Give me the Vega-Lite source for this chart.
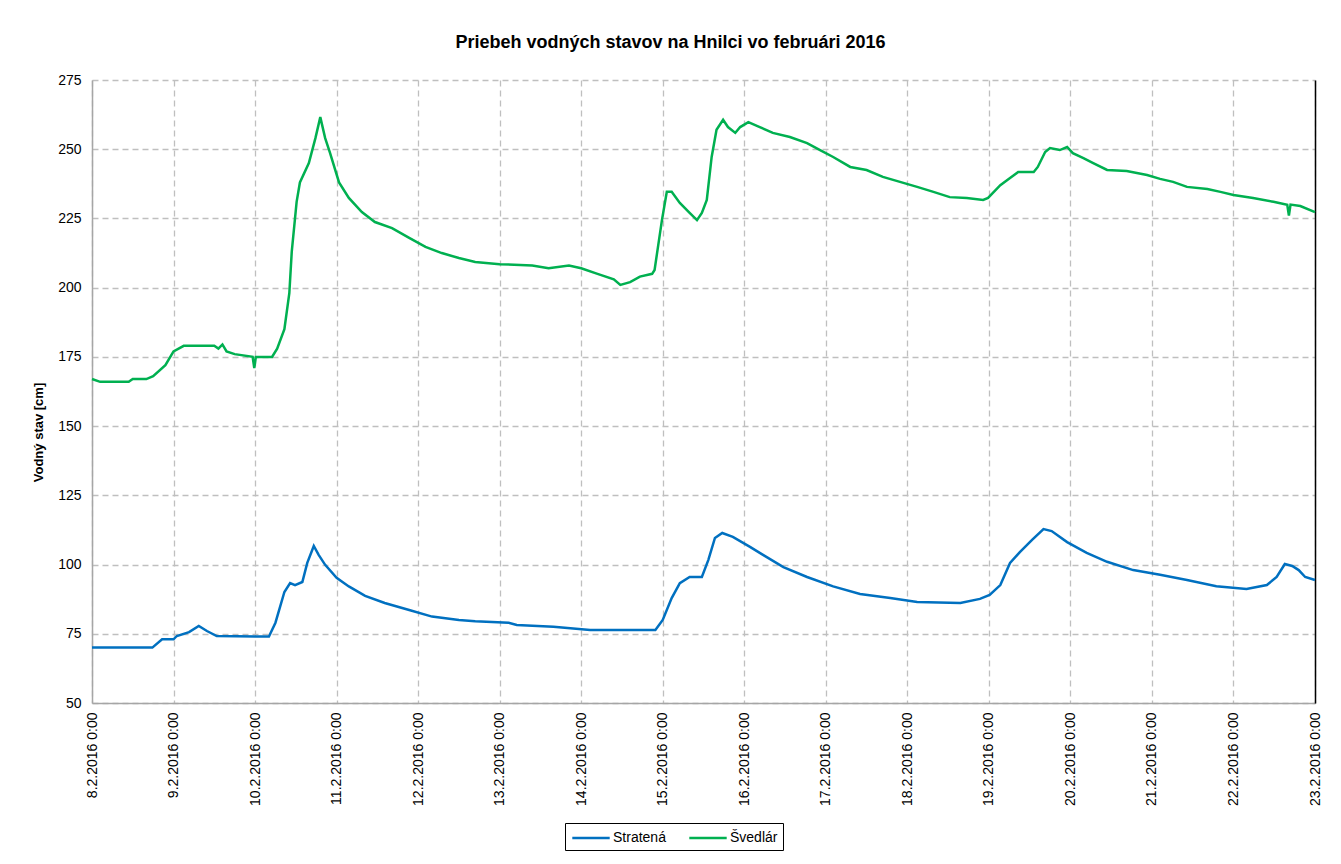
{
  "$schema": "https://vega.github.io/schema/vega-lite/v6.json",
  "width": 1223,
  "height": 623,
  "autosize": {"type": "none"},
  "padding": {"left": 92, "top": 80, "right": 26, "bottom": 161},
  "background": "#ffffff",
  "config": {
    "font": "Liberation Sans",
    "view": {"stroke": null},
    "axis": {"labelFont": "Liberation Sans", "titleFont": "Liberation Sans"}
  },
  "title": {
    "text": "Priebeh vodných stavov na Hnilci vo februári 2016",
    "font": "Liberation Sans",
    "fontSize": 18,
    "fontWeight": "bold",
    "color": "#000000",
    "anchor": "middle",
    "dx": -33,
    "offset": 21
  },
  "datasets": {
    "levels": [
      {"t": "2016-02-08T00:00", "s": "Stratená", "v": 70},
      {"t": "2016-02-08T17:46", "s": "Stratená", "v": 70},
      {"t": "2016-02-08T20:38", "s": "Stratená", "v": 73},
      {"t": "2016-02-09T00:00", "s": "Stratená", "v": 73},
      {"t": "2016-02-09T00:58", "s": "Stratená", "v": 74.2},
      {"t": "2016-02-09T04:34", "s": "Stratená", "v": 75.6},
      {"t": "2016-02-09T07:26", "s": "Stratená", "v": 77.8},
      {"t": "2016-02-09T09:50", "s": "Stratená", "v": 76},
      {"t": "2016-02-09T12:43", "s": "Stratená", "v": 74.2},
      {"t": "2016-02-10T04:05", "s": "Stratená", "v": 74},
      {"t": "2016-02-10T06:00", "s": "Stratená", "v": 79},
      {"t": "2016-02-10T08:38", "s": "Stratená", "v": 90.1},
      {"t": "2016-02-10T10:19", "s": "Stratená", "v": 93.3},
      {"t": "2016-02-10T11:46", "s": "Stratená", "v": 92.6},
      {"t": "2016-02-10T13:55", "s": "Stratená", "v": 93.7},
      {"t": "2016-02-10T15:22", "s": "Stratená", "v": 100.6},
      {"t": "2016-02-10T17:17", "s": "Stratená", "v": 106.7},
      {"t": "2016-02-10T18:43", "s": "Stratená", "v": 103.5},
      {"t": "2016-02-10T20:38", "s": "Stratená", "v": 99.9},
      {"t": "2016-02-11T00:00", "s": "Stratená", "v": 95.2},
      {"t": "2016-02-11T03:36", "s": "Stratená", "v": 92.1},
      {"t": "2016-02-11T08:24", "s": "Stratená", "v": 88.7},
      {"t": "2016-02-11T14:10", "s": "Stratená", "v": 86.1},
      {"t": "2016-02-11T21:22", "s": "Stratená", "v": 83.6},
      {"t": "2016-02-12T04:05", "s": "Stratená", "v": 81.2},
      {"t": "2016-02-12T12:00", "s": "Stratená", "v": 80},
      {"t": "2016-02-12T16:48", "s": "Stratená", "v": 79.5},
      {"t": "2016-02-13T02:38", "s": "Stratená", "v": 79},
      {"t": "2016-02-13T05:02", "s": "Stratená", "v": 78.2},
      {"t": "2016-02-13T15:50", "s": "Stratená", "v": 77.5},
      {"t": "2016-02-14T02:38", "s": "Stratená", "v": 76.4},
      {"t": "2016-02-14T21:50", "s": "Stratená", "v": 76.4},
      {"t": "2016-02-15T00:00", "s": "Stratená", "v": 80},
      {"t": "2016-02-15T02:38", "s": "Stratená", "v": 87.9},
      {"t": "2016-02-15T05:02", "s": "Stratená", "v": 93.3},
      {"t": "2016-02-15T07:55", "s": "Stratená", "v": 95.5},
      {"t": "2016-02-15T11:31", "s": "Stratená", "v": 95.5},
      {"t": "2016-02-15T13:26", "s": "Stratená", "v": 101.7},
      {"t": "2016-02-15T15:22", "s": "Stratená", "v": 109.6},
      {"t": "2016-02-15T17:31", "s": "Stratená", "v": 111.4},
      {"t": "2016-02-15T20:38", "s": "Stratená", "v": 110},
      {"t": "2016-02-16T01:41", "s": "Stratená", "v": 106.4},
      {"t": "2016-02-16T05:31", "s": "Stratená", "v": 103.5},
      {"t": "2016-02-16T11:31", "s": "Stratená", "v": 99.1},
      {"t": "2016-02-16T18:29", "s": "Stratená", "v": 95.5},
      {"t": "2016-02-17T02:10", "s": "Stratená", "v": 92.1},
      {"t": "2016-02-17T10:05", "s": "Stratená", "v": 89.4},
      {"t": "2016-02-17T18:58", "s": "Stratená", "v": 87.9},
      {"t": "2016-02-18T02:53", "s": "Stratená", "v": 86.5},
      {"t": "2016-02-18T15:36", "s": "Stratená", "v": 86.1},
      {"t": "2016-02-18T21:22", "s": "Stratená", "v": 87.6},
      {"t": "2016-02-19T00:14", "s": "Stratená", "v": 89},
      {"t": "2016-02-19T03:22", "s": "Stratená", "v": 92.6},
      {"t": "2016-02-19T06:14", "s": "Stratená", "v": 100.6},
      {"t": "2016-02-19T09:07", "s": "Stratená", "v": 104.5},
      {"t": "2016-02-19T12:43", "s": "Stratená", "v": 108.9},
      {"t": "2016-02-19T16:05", "s": "Stratená", "v": 112.8},
      {"t": "2016-02-19T18:29", "s": "Stratená", "v": 112.1},
      {"t": "2016-02-19T23:02", "s": "Stratená", "v": 108.1},
      {"t": "2016-02-20T04:48", "s": "Stratená", "v": 104.2},
      {"t": "2016-02-20T10:48", "s": "Stratená", "v": 101},
      {"t": "2016-02-20T18:29", "s": "Stratená", "v": 98},
      {"t": "2016-02-21T02:24", "s": "Stratená", "v": 96.3},
      {"t": "2016-02-21T10:19", "s": "Stratená", "v": 94.4},
      {"t": "2016-02-21T18:58", "s": "Stratená", "v": 92.2},
      {"t": "2016-02-22T03:50", "s": "Stratená", "v": 91.2},
      {"t": "2016-02-22T09:50", "s": "Stratená", "v": 92.6},
      {"t": "2016-02-22T12:43", "s": "Stratená", "v": 95.5},
      {"t": "2016-02-22T15:07", "s": "Stratená", "v": 100.2},
      {"t": "2016-02-22T17:17", "s": "Stratená", "v": 99.5},
      {"t": "2016-02-22T19:12", "s": "Stratená", "v": 98},
      {"t": "2016-02-22T21:07", "s": "Stratená", "v": 95.5},
      {"t": "2016-02-23T00:00", "s": "Stratená", "v": 94.4},

      {"t": "2016-02-08T00:00", "s": "Švedlár", "v": 167},
      {"t": "2016-02-08T02:24", "s": "Švedlár", "v": 166},
      {"t": "2016-02-08T10:48", "s": "Švedlár", "v": 166},
      {"t": "2016-02-08T12:00", "s": "Švedlár", "v": 167},
      {"t": "2016-02-08T16:00", "s": "Švedlár", "v": 167},
      {"t": "2016-02-08T18:00", "s": "Švedlár", "v": 168},
      {"t": "2016-02-08T21:36", "s": "Švedlár", "v": 172},
      {"t": "2016-02-09T00:00", "s": "Švedlár", "v": 177},
      {"t": "2016-02-09T03:00", "s": "Švedlár", "v": 179},
      {"t": "2016-02-09T12:00", "s": "Švedlár", "v": 179},
      {"t": "2016-02-09T13:12", "s": "Švedlár", "v": 178},
      {"t": "2016-02-09T14:24", "s": "Švedlár", "v": 179.5},
      {"t": "2016-02-09T15:36", "s": "Švedlár", "v": 177},
      {"t": "2016-02-09T18:00", "s": "Švedlár", "v": 176},
      {"t": "2016-02-09T23:17", "s": "Švedlár", "v": 175},
      {"t": "2016-02-09T23:46", "s": "Švedlár", "v": 171},
      {"t": "2016-02-10T00:14", "s": "Švedlár", "v": 175},
      {"t": "2016-02-10T05:00", "s": "Švedlár", "v": 175},
      {"t": "2016-02-10T06:30", "s": "Švedlár", "v": 178},
      {"t": "2016-02-10T08:38", "s": "Švedlár", "v": 185},
      {"t": "2016-02-10T10:05", "s": "Švedlár", "v": 198},
      {"t": "2016-02-10T10:48", "s": "Švedlár", "v": 213},
      {"t": "2016-02-10T12:14", "s": "Švedlár", "v": 231},
      {"t": "2016-02-10T13:12", "s": "Švedlár", "v": 238},
      {"t": "2016-02-10T15:50", "s": "Švedlár", "v": 245},
      {"t": "2016-02-10T17:46", "s": "Švedlár", "v": 254},
      {"t": "2016-02-10T19:12", "s": "Švedlár", "v": 261.6},
      {"t": "2016-02-10T20:38", "s": "Švedlár", "v": 254},
      {"t": "2016-02-10T22:05", "s": "Švedlár", "v": 248.6},
      {"t": "2016-02-11T00:43", "s": "Švedlár", "v": 238},
      {"t": "2016-02-11T03:36", "s": "Švedlár", "v": 232.4},
      {"t": "2016-02-11T07:26", "s": "Švedlár", "v": 227.3},
      {"t": "2016-02-11T11:17", "s": "Švedlár", "v": 223.7},
      {"t": "2016-02-11T16:19", "s": "Švedlár", "v": 221.5},
      {"t": "2016-02-11T21:22", "s": "Švedlár", "v": 218},
      {"t": "2016-02-12T02:10", "s": "Švedlár", "v": 214.7},
      {"t": "2016-02-12T06:58", "s": "Švedlár", "v": 212.5},
      {"t": "2016-02-12T12:00", "s": "Švedlár", "v": 210.7},
      {"t": "2016-02-12T16:48", "s": "Švedlár", "v": 209.3},
      {"t": "2016-02-13T00:00", "s": "Švedlár", "v": 208.5},
      {"t": "2016-02-13T09:36", "s": "Švedlár", "v": 208},
      {"t": "2016-02-13T14:24", "s": "Švedlár", "v": 207},
      {"t": "2016-02-13T20:24", "s": "Švedlár", "v": 208},
      {"t": "2016-02-14T00:00", "s": "Švedlár", "v": 207},
      {"t": "2016-02-14T04:48", "s": "Švedlár", "v": 205},
      {"t": "2016-02-14T09:36", "s": "Švedlár", "v": 203},
      {"t": "2016-02-14T11:31", "s": "Švedlár", "v": 201},
      {"t": "2016-02-14T14:24", "s": "Švedlár", "v": 202},
      {"t": "2016-02-14T17:17", "s": "Švedlár", "v": 204},
      {"t": "2016-02-14T20:53", "s": "Švedlár", "v": 205},
      {"t": "2016-02-14T21:36", "s": "Švedlár", "v": 206.4},
      {"t": "2016-02-14T23:46", "s": "Švedlár", "v": 224.4},
      {"t": "2016-02-15T01:12", "s": "Švedlár", "v": 234.6},
      {"t": "2016-02-15T02:38", "s": "Švedlár", "v": 234.6},
      {"t": "2016-02-15T05:02", "s": "Švedlár", "v": 230.6},
      {"t": "2016-02-15T07:55", "s": "Švedlár", "v": 227},
      {"t": "2016-02-15T10:05", "s": "Švedlár", "v": 224.4},
      {"t": "2016-02-15T11:31", "s": "Švedlár", "v": 227},
      {"t": "2016-02-15T12:58", "s": "Švedlár", "v": 231.7},
      {"t": "2016-02-15T14:24", "s": "Švedlár", "v": 247.2},
      {"t": "2016-02-15T15:50", "s": "Švedlár", "v": 257},
      {"t": "2016-02-15T17:46", "s": "Švedlár", "v": 260.6},
      {"t": "2016-02-15T19:12", "s": "Švedlár", "v": 258},
      {"t": "2016-02-15T21:22", "s": "Švedlár", "v": 255.9},
      {"t": "2016-02-15T22:48", "s": "Švedlár", "v": 258},
      {"t": "2016-02-16T01:12", "s": "Švedlár", "v": 259.8},
      {"t": "2016-02-16T04:34", "s": "Švedlár", "v": 258},
      {"t": "2016-02-16T08:24", "s": "Švedlár", "v": 255.9},
      {"t": "2016-02-16T13:26", "s": "Švedlár", "v": 254.4},
      {"t": "2016-02-16T18:29", "s": "Švedlár", "v": 252.2},
      {"t": "2016-02-16T22:19", "s": "Švedlár", "v": 249.7},
      {"t": "2016-02-17T02:10", "s": "Švedlár", "v": 247.2},
      {"t": "2016-02-17T07:12", "s": "Švedlár", "v": 243.6},
      {"t": "2016-02-17T12:00", "s": "Švedlár", "v": 242.5},
      {"t": "2016-02-17T16:48", "s": "Švedlár", "v": 240},
      {"t": "2016-02-17T21:50", "s": "Švedlár", "v": 238.2},
      {"t": "2016-02-18T02:53", "s": "Švedlár", "v": 236.4},
      {"t": "2016-02-18T07:41", "s": "Švedlár", "v": 234.6},
      {"t": "2016-02-18T12:29", "s": "Švedlár", "v": 232.7},
      {"t": "2016-02-18T17:31", "s": "Švedlár", "v": 232.4},
      {"t": "2016-02-18T22:19", "s": "Švedlár", "v": 231.7},
      {"t": "2016-02-18T23:46", "s": "Švedlár", "v": 232.4},
      {"t": "2016-02-19T03:22", "s": "Švedlár", "v": 237},
      {"t": "2016-02-19T06:14", "s": "Švedlár", "v": 239.6},
      {"t": "2016-02-19T08:38", "s": "Švedlár", "v": 241.8},
      {"t": "2016-02-19T13:12", "s": "Švedlár", "v": 241.8},
      {"t": "2016-02-19T14:24", "s": "Švedlár", "v": 243.6},
      {"t": "2016-02-19T16:34", "s": "Švedlár", "v": 249},
      {"t": "2016-02-19T18:00", "s": "Švedlár", "v": 250.4},
      {"t": "2016-02-19T20:53", "s": "Švedlár", "v": 249.7},
      {"t": "2016-02-19T23:02", "s": "Švedlár", "v": 250.8},
      {"t": "2016-02-20T00:43", "s": "Švedlár", "v": 248.6},
      {"t": "2016-02-20T03:50", "s": "Švedlár", "v": 246.8},
      {"t": "2016-02-20T06:43", "s": "Švedlár", "v": 245},
      {"t": "2016-02-20T10:48", "s": "Švedlár", "v": 242.5},
      {"t": "2016-02-20T16:34", "s": "Švedlár", "v": 242.1},
      {"t": "2016-02-20T22:34", "s": "Švedlár", "v": 240.7},
      {"t": "2016-02-21T02:24", "s": "Švedlár", "v": 239.3},
      {"t": "2016-02-21T06:14", "s": "Švedlár", "v": 238.2},
      {"t": "2016-02-21T10:19", "s": "Švedlár", "v": 236.4},
      {"t": "2016-02-21T16:19", "s": "Švedlár", "v": 235.6},
      {"t": "2016-02-21T20:10", "s": "Švedlár", "v": 234.6},
      {"t": "2016-02-22T00:00", "s": "Švedlár", "v": 233.5},
      {"t": "2016-02-22T05:46", "s": "Švedlár", "v": 232.4},
      {"t": "2016-02-22T11:46", "s": "Švedlár", "v": 231},
      {"t": "2016-02-22T15:50", "s": "Švedlár", "v": 229.9},
      {"t": "2016-02-22T16:19", "s": "Švedlár", "v": 226},
      {"t": "2016-02-22T16:48", "s": "Švedlár", "v": 230},
      {"t": "2016-02-22T19:41", "s": "Švedlár", "v": 229.5},
      {"t": "2016-02-23T00:00", "s": "Švedlár", "v": 227.3}
    ]
  },
  "data": {"name": "levels"},
  "layer": [
    {
      "mark": {"type": "line", "strokeWidth": 2.5, "interpolate": "linear"},
      "encoding": {
        "x": {
          "field": "t",
          "type": "temporal",
          "scale": {
            "domain": [
              {"year": 2016, "month": 2, "date": 8},
              {"year": 2016, "month": 2, "date": 23}
            ],
            "nice": false
          },
          "axis": {
            "title": null,
            "format": "%-d.%-m.%Y %-H:%M",
            "tickCount": {"interval": "day", "step": 1},
            "labelAngle": 270,
            "labelAlign": "right",
            "labelBaseline": "middle",
            "labelFontSize": 14,
            "labelColor": "#000000",
            "labelPadding": 9,
            "labelOverlap": false,
            "labelFlush": false,
            "ticks": false,
            "domainColor": "#A6A6A6",
            "domainWidth": 1.5,
            "grid": true,
            "gridColor": "#BFBFBF",
            "gridDash": [6, 4],
            "gridWidth": 1.3
          }
        },
        "y": {
          "field": "v",
          "type": "quantitative",
          "scale": {"domain": [50, 275], "nice": false, "zero": false},
          "axis": {
            "title": "Vodný stav [cm]",
            "titleFontSize": 13,
            "titleFontWeight": "bold",
            "titleColor": "#000000",
            "titlePadding": 12,
            "titleY": 352,
            "values": [50, 75, 100, 125, 150, 175, 200, 225, 250, 275],
            "labelFontSize": 14,
            "labelColor": "#000000",
            "labelPadding": 11,
            "ticks": false,
            "domainColor": "#A6A6A6",
            "domainWidth": 1.5,
            "grid": true,
            "gridColor": "#BFBFBF",
            "gridDash": [6, 4],
            "gridWidth": 1.3
          }
        },
        "color": {
          "field": "s",
          "type": "nominal",
          "scale": {"domain": ["Stratená", "Švedlár"], "range": ["#0070C0", "#00B050"]},
          "legend": {
            "title": null,
            "orient": "none",
            "legendX": 473,
            "legendY": 743,
            "direction": "horizontal",
            "symbolType": "M-2.2,0H2.2",
            "symbolSize": 289,
            "symbolStrokeWidth": 2.5,
            "symbolFillColor": "transparent",
            "symbolOffset": 11,
            "labelFontSize": 14,
            "labelColor": "#000000",
            "labelOffset": 12,
            "columnPadding": 18,
            "strokeColor": "#000000",
            "padding": 5,
            "fillColor": "#ffffff"
          }
        }
      }
    },
    {
      "mark": {"type": "line", "opacity": 0},
      "encoding": {
        "x": {"field": "t", "type": "temporal"},
        "y": {
          "field": "v",
          "type": "quantitative",
          "scale": {"domain": [50, 275], "nice": false, "zero": false},
          "axis": {
            "orient": "right",
            "title": null,
            "labels": false,
            "ticks": false,
            "grid": false,
            "domainColor": "#000000",
            "domainWidth": 1.5
          }
        }
      }
    }
  ],
  "resolve": {"scale": {"y": "independent"}, "axis": {"y": "independent"}}
}
